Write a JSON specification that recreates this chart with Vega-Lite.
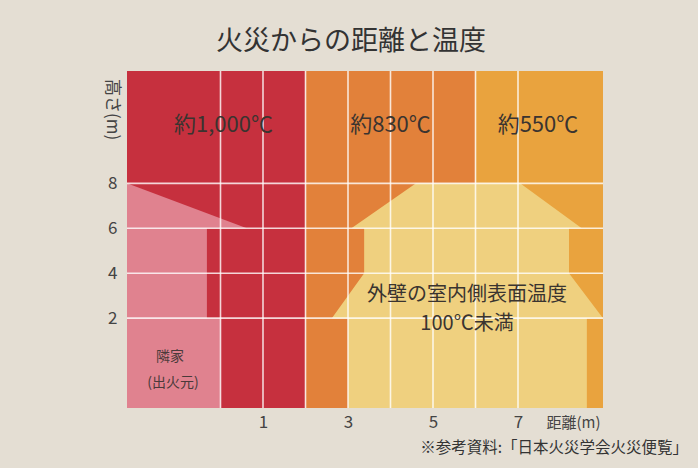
{
  "$schema": "https://vega.github.io/schema/vega-lite/v6.json",
  "width": 476,
  "height": 337,
  "autosize": {"type": "none"},
  "padding": {"left": 127, "top": 71, "right": 95, "bottom": 60},
  "background": "#E4DED3",
  "config": {
    "view": {"stroke": null},
    "font": "Noto Sans CJK JP",
    "text": {"font": "Noto Sans CJK JP", "color": "#3a3430"}
  },
  "title": {
    "text": "火災からの距離と温度",
    "fontSize": 27,
    "fontWeight": "normal",
    "color": "#333333",
    "font": "Noto Sans CJK JP",
    "anchor": "middle",
    "frame": "group",
    "baseline": "alphabetic",
    "dx": -14,
    "dy": 28,
    "offset": 21
  },
  "datasets": {
    "zones": [
      {"x": -2.2, "x2": 2, "zone": "約1,000℃"},
      {"x": 2, "x2": 6, "zone": "約830℃"},
      {"x": 6, "x2": 9, "zone": "約550℃"}
    ],
    "houses": [
      {"house": "隣家", "order": 1, "x": -2.2, "y": 8},
      {"house": "隣家", "order": 2, "x": 0.62, "y": 6},
      {"house": "隣家", "order": 3, "x": -0.32, "y": 6},
      {"house": "隣家", "order": 4, "x": -0.32, "y": 2},
      {"house": "隣家", "order": 5, "x": 0, "y": 2},
      {"house": "隣家", "order": 6, "x": 0, "y": -2},
      {"house": "隣家", "order": 7, "x": -2.2, "y": -2},
      {"house": "自宅", "order": 1, "x": 4.6, "y": 8},
      {"house": "自宅", "order": 2, "x": 7.05, "y": 8},
      {"house": "自宅", "order": 3, "x": 8.5, "y": 6},
      {"house": "自宅", "order": 4, "x": 8.2, "y": 6},
      {"house": "自宅", "order": 5, "x": 8.2, "y": 4},
      {"house": "自宅", "order": 6, "x": 9, "y": 2},
      {"house": "自宅", "order": 7, "x": 8.62, "y": 2},
      {"house": "自宅", "order": 8, "x": 8.62, "y": -2},
      {"house": "自宅", "order": 9, "x": 3, "y": -2},
      {"house": "自宅", "order": 10, "x": 3, "y": 2},
      {"house": "自宅", "order": 11, "x": 2.62, "y": 2},
      {"house": "自宅", "order": 12, "x": 3.38, "y": 4},
      {"house": "自宅", "order": 13, "x": 3.38, "y": 6},
      {"house": "自宅", "order": 14, "x": 3.08, "y": 6}
    ],
    "vgrid": [{"x": 0}, {"x": 1}, {"x": 2}, {"x": 3}, {"x": 4}, {"x": 5}, {"x": 6}, {"x": 7}],
    "hgrid": [{"y": 2}, {"y": 4}, {"y": 6}, {"y": 8}],
    "temps": [
      {"x": 0.07, "y": 10.6, "label": "約1,000℃"},
      {"x": 4.0, "y": 10.6, "label": "約830℃"},
      {"x": 7.47, "y": 10.6, "label": "約550℃"}
    ],
    "wall": [
      {"x": 5.8, "y": 3.03, "label": "外壁の室内側表面温度"},
      {"x": 5.8, "y": 1.74, "label": "100℃未満"}
    ],
    "origin": [
      {"x": -1.19, "y": 0.27, "label": "隣家"},
      {"x": -1.12, "y": -0.89, "label": "(出火元)"}
    ],
    "source": [
      {"x": 11.0, "y": -3.76, "label": "※参考資料:「日本火災学会火災便覧」"}
    ]
  },
  "layer": [
    {
      "data": {"name": "zones"},
      "mark": {"type": "rect"},
      "encoding": {
        "x": {
          "field": "x", "type": "quantitative",
          "scale": {"domain": [-2.2, 9], "nice": false, "zero": false},
          "axis": {
            "values": [1, 3, 5, 7],
            "domain": false, "ticks": false, "grid": false,
            "labelFontSize": 17, "labelColor": "#444444", "labelPadding": 6,
            "labelFont": "Noto Sans CJK JP",
            "title": "距離(m)",
            "titleFont": "Noto Sans CJK JP",
            "titleFontSize": 15, "titleFontWeight": "normal", "titleColor": "#444444",
            "titleX": 446, "titleY": 14, "titleAlign": "center", "titleBaseline": "middle"
          }
        },
        "x2": {"field": "x2"},
        "y": {"datum": -2, "type": "quantitative",
          "scale": {"domain": [-2, 13], "nice": false, "zero": false},
          "axis": {
            "values": [2, 4, 6, 8],
            "domain": false, "ticks": false, "grid": false,
            "labelFontSize": 17, "labelColor": "#444444", "labelPadding": 10,
            "labelFont": "Noto Sans CJK JP",
            "title": "高さ(m)",
            "titleFont": "Noto Sans CJK JP",
            "titleFontSize": 17, "titleFontWeight": "normal", "titleColor": "#444444",
            "titleAngle": 90, "titleX": -16, "titleY": 38,
            "titleAlign": "center", "titleBaseline": "middle"
          }
        },
        "y2": {"datum": 13},
        "color": {
          "field": "zone", "type": "nominal",
          "scale": {"domain": ["約1,000℃", "約830℃", "約550℃"], "range": ["#C6303E", "#E2813A", "#E9A33E"]},
          "legend": null
        }
      }
    },
    {
      "data": {"name": "houses"},
      "mark": {"type": "line", "filled": true, "strokeWidth": 0, "interpolate": "linear"},
      "encoding": {
        "x": {"field": "x", "type": "quantitative"},
        "y": {"field": "y", "type": "quantitative"},
        "order": {"field": "order"},
        "detail": {"field": "house"},
        "fill": {
          "field": "house", "type": "nominal",
          "scale": {"domain": ["隣家", "自宅"], "range": ["#E0828F", "#EFD07F"]},
          "legend": null
        }
      }
    },
    {
      "data": {"name": "vgrid"},
      "mark": {"type": "rule", "color": "#FFFFFF", "opacity": 0.8, "strokeWidth": 1.6},
      "encoding": {"x": {"field": "x", "type": "quantitative"}}
    },
    {
      "data": {"name": "hgrid"},
      "mark": {"type": "rule", "color": "#FFFFFF", "opacity": 0.8, "strokeWidth": 1.6},
      "encoding": {"y": {"field": "y", "type": "quantitative"}}
    },
    {
      "data": {"name": "temps"},
      "mark": {"type": "text", "fontSize": 22, "align": "center", "baseline": "middle"},
      "encoding": {
        "x": {"field": "x", "type": "quantitative"},
        "y": {"field": "y", "type": "quantitative"},
        "text": {"field": "label"}
      }
    },
    {
      "data": {"name": "wall"},
      "mark": {"type": "text", "fontSize": 20, "align": "center", "baseline": "middle"},
      "encoding": {
        "x": {"field": "x", "type": "quantitative"},
        "y": {"field": "y", "type": "quantitative"},
        "text": {"field": "label"}
      }
    },
    {
      "data": {"name": "origin"},
      "mark": {"type": "text", "fontSize": 14, "align": "center", "baseline": "middle", "color": "#4a3a3a"},
      "encoding": {
        "x": {"field": "x", "type": "quantitative"},
        "y": {"field": "y", "type": "quantitative"},
        "text": {"field": "label"}
      }
    },
    {
      "data": {"name": "source"},
      "mark": {"type": "text", "fontSize": 15.5, "align": "right", "baseline": "middle", "color": "#333333", "clip": false},
      "encoding": {
        "x": {"field": "x", "type": "quantitative"},
        "y": {"field": "y", "type": "quantitative"},
        "text": {"field": "label"}
      }
    }
  ]
}
